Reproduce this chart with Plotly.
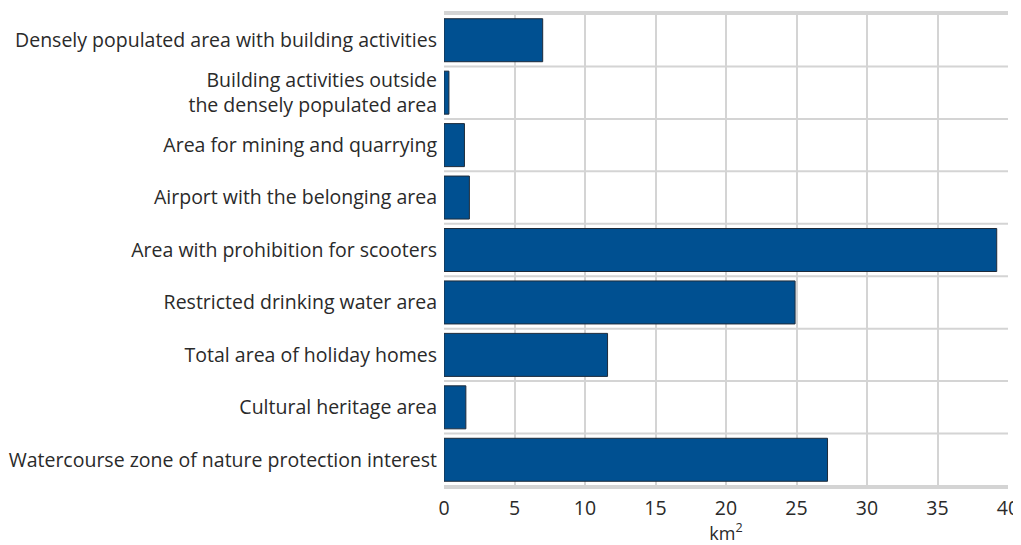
import plotly.graph_objects as go

categories = [
    "Densely populated area with building activities",
    "Building activities outside<br>the densely populated area",
    "Area for mining and quarrying",
    "Airport with the belonging area",
    "Area with prohibition for scooters",
    "Restricted drinking water area",
    "Total area of holiday homes",
    "Cultural heritage area",
    "Watercourse zone of nature protection interest",
]
values = [7.0, 0.35, 1.45, 1.8, 39.2, 24.9, 11.6, 1.55, 27.2]
x_ticks = [0, 5, 10, 15, 20, 25, 30, 35, 40]

GRID = "#d4d4d4"

fig = go.Figure(go.Bar(
    y=categories, x=values, orientation="h",
    marker=dict(color="#005091", line=dict(color="#1e2b3a", width=1)),
))

shapes = []
for i in range(len(categories) + 1):
    shapes.append(dict(type="line", xref="paper", yref="y", x0=0, x1=1,
                       y0=i - 0.5, y1=i - 0.5, layer="below",
                       line=dict(color=GRID, width=2)))
fig.update_layout(shapes=shapes)

fig.update_layout(
    width=1013, height=537,
    margin=dict(l=436, r=13, t=5, b=58, autoexpand=False),
    paper_bgcolor="white", plot_bgcolor="white",
    font=dict(family="Open Sans, Noto Sans, sans-serif", size=19.5, color="#2a2a2a"),
    bargap=0.18,
    showlegend=False,
    xaxis=dict(range=[0, 40], tickvals=x_ticks, showgrid=True, gridcolor=GRID, gridwidth=2,
               zeroline=False, showline=True, linecolor=GRID, linewidth=2, mirror=True,
               ticks="", automargin=False, ticklabelstandoff=3,
               title=dict(text="km<sup>2</sup>", font=dict(size=18), standoff=2),
               tickfont=dict(size=19.5)),
    yaxis=dict(autorange="reversed", showgrid=False, ticks="", showline=False,
               zeroline=False, tickfont=dict(size=19.5), automargin=False,
               ticklabelstandoff=6),
)

fig.write_html("out.html")
